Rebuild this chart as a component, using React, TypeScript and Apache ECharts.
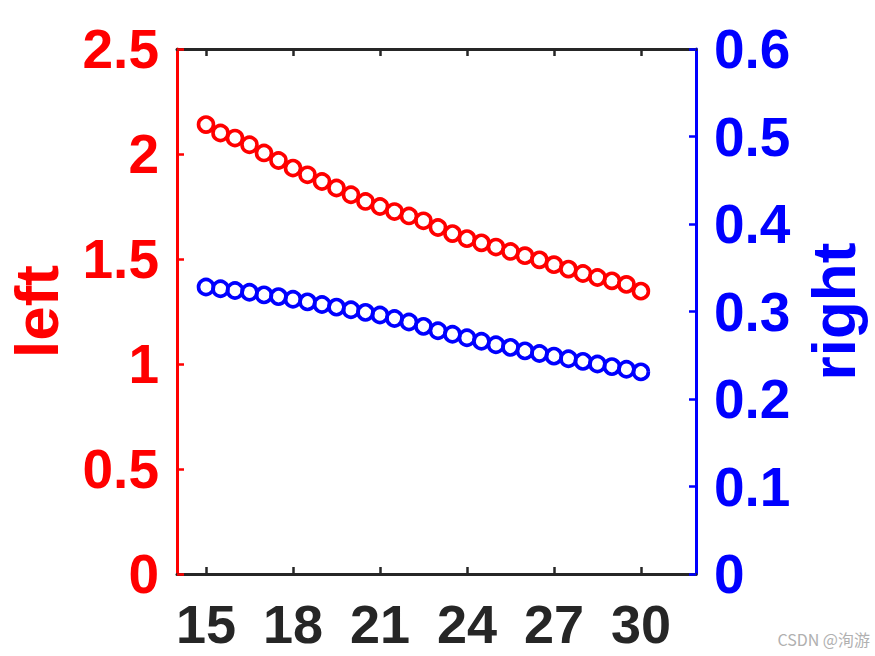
import React, { useEffect, useRef } from "react";
import * as echarts from "echarts";

const xValues = [15, 15.5, 16, 16.5, 17, 17.5, 18, 18.5, 19, 19.5, 20, 20.5, 21, 21.5, 22, 22.5, 23, 23.5, 24, 24.5, 25, 25.5, 26, 26.5, 27, 27.5, 28, 28.5, 29, 29.5, 30];
const leftValues = [2.140, 2.100, 2.076, 2.044, 2.005, 1.969, 1.933, 1.901, 1.869, 1.838, 1.806, 1.774, 1.750, 1.726, 1.705, 1.682, 1.650, 1.621, 1.597, 1.577, 1.557, 1.536, 1.516, 1.496, 1.473, 1.452, 1.431, 1.412, 1.396, 1.379, 1.347];
const rightValues = [0.328, 0.326, 0.324, 0.322, 0.319, 0.317, 0.314, 0.311, 0.308, 0.305, 0.302, 0.299, 0.296, 0.292, 0.288, 0.283, 0.278, 0.274, 0.270, 0.266, 0.262, 0.259, 0.255, 0.252, 0.249, 0.246, 0.243, 0.240, 0.237, 0.234, 0.231];
const xTicks = [15, 18, 21, 24, 27, 30];
const leftName = "left";
const rightName = "right";
const watermark = "CSDN @洵游";

const FONT = "'Liberation Sans', Arial, sans-serif";
const RED = "#ff0000";
const BLUE = "#0000ff";
const DARK = "#262626";

export default function App() {
  const ref = useRef<HTMLDivElement>(null);
  useEffect(() => {
    if (!ref.current) return;
    const chart = echarts.init(ref.current, null, { renderer: "svg" });
    const leftData = xValues.map((x, i) => [x, leftValues[i]]);
    const rightData = xValues.map((x, i) => [x, rightValues[i]]);
    const tickLabel = { fontFamily: FONT, fontWeight: "bold" as const, fontSize: 55 };
    chart.setOption({
      animation: false,
      backgroundColor: "#ffffff",
      grid: { left: 177, right: 179, top: 49, bottom: 82, containLabel: false, outerBoundsMode: "none" },
      xAxis: [
        {
          type: "value",
          min: 14,
          max: 31.9,
          position: "bottom",
          axisLine: { show: true, lineStyle: { color: DARK, width: 3 } },
          axisTick: { show: true, inside: true, length: 7, customValues: xTicks, lineStyle: { color: DARK, width: 2.5 } },
          axisLabel: { show: true, customValues: xTicks, color: DARK, margin: 28, lineHeight: 44, ...tickLabel, fontSize: 54 },
          splitLine: { show: false },
        },
        {
          type: "value",
          min: 14,
          max: 31.9,
          position: "top",
          axisLine: { show: true, onZero: false, lineStyle: { color: DARK, width: 3 } },
          axisTick: { show: true, inside: true, length: 7, customValues: xTicks, lineStyle: { color: DARK, width: 2.5 } },
          axisLabel: { show: false },
          splitLine: { show: false },
        },
      ],
      yAxis: [
        {
          type: "value",
          min: 0,
          max: 2.5,
          interval: 0.5,
          position: "left",
          name: leftName,
          nameLocation: "middle",
          nameRotate: 90,
          nameGap: 110,
          nameTextStyle: { color: RED, fontFamily: FONT, fontWeight: "bold", fontSize: 62 },
          axisLine: { show: true, onZero: false, lineStyle: { color: RED, width: 3 } },
          axisTick: { show: true, inside: true, length: 7, lineStyle: { color: RED, width: 2.5 } },
          axisLabel: { color: RED, margin: 18, ...tickLabel },
          splitLine: { show: false },
        },
        {
          type: "value",
          min: 0,
          max: 0.6,
          interval: 0.1,
          position: "right",
          name: rightName,
          nameLocation: "middle",
          nameRotate: 90,
          nameGap: 106,
          nameTextStyle: { color: BLUE, fontFamily: FONT, fontWeight: "bold", fontSize: 62 },
          axisLine: { show: true, onZero: false, lineStyle: { color: BLUE, width: 3 } },
          axisTick: { show: true, inside: true, length: 7, lineStyle: { color: BLUE, width: 2.5 } },
          axisLabel: {
            color: BLUE,
            margin: 18,
            formatter: (v: number) => String(Math.round(v * 10) / 10),
            ...tickLabel,
          },
          splitLine: { show: false },
        },
      ],
      graphic: [
        {
          type: "text",
          right: 5,
          bottom: 9,
          style: { text: watermark, fill: "#b0b0b0", font: "16px 'Noto Sans CJK SC', sans-serif" },
        },
      ],
      series: [
        {
          type: "scatter",
          xAxisIndex: 0,
          yAxisIndex: 0,
          data: leftData,
          symbol: "circle",
          symbolSize: 15,
          itemStyle: { color: "rgba(0,0,0,0)", borderColor: RED, borderWidth: 3.6, opacity: 1 },
        },
        {
          type: "scatter",
          xAxisIndex: 0,
          yAxisIndex: 1,
          data: rightData,
          symbol: "circle",
          symbolSize: 15,
          itemStyle: { color: "rgba(0,0,0,0)", borderColor: BLUE, borderWidth: 3.6, opacity: 1 },
        },
      ],
    });
    return () => chart.dispose();
  }, []);
  return <div ref={ref} style={{ position: "absolute", left: 0, top: 0, width: 875, height: 656 }} />;
}
